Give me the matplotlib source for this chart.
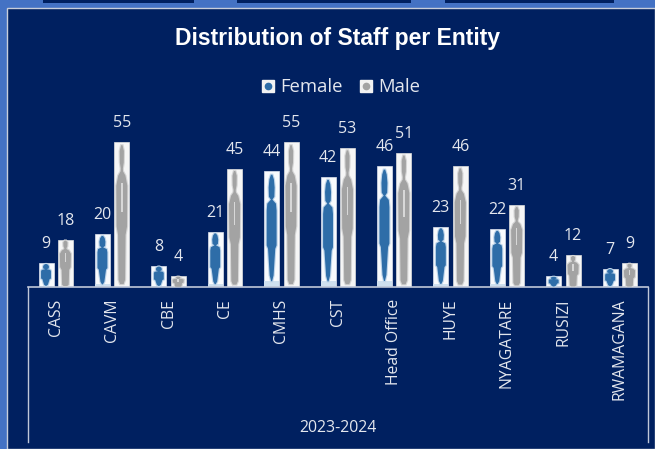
"""
staff_per_entity.py
"""
import numpy as np
import matplotlib
matplotlib.use('Agg')
import matplotlib.pyplot as plt
from matplotlib.lines import Line2D
from matplotlib.patches import Rectangle
from matplotlib.legend_handler import HandlerTuple
# ------------------------Data--------------------------------------------------
entities = ['CASS', 'CAVM', 'CBE', 'CE', 'CMHS', 'CST', 'Head Office',
            'HUYE', 'NYAGATARE', 'RUSIZI', 'RWAMAGANA']
female = [9, 20, 8, 21, 44, 42, 46, 23, 22, 4, 7]
male = [18, 55, 4, 45, 55, 53, 51, 46, 31, 12, 9]
group_label = '2023-2024'
title = 'Distribution of Staff per Entity'
# ------------------------Silhouettes (half width / height, bar relative)-------
f_h = [0.05, 0.10, 0.33, 0.36, 0.66, 0.72, 0.745, 0.755, 0.78, 0.86, 0.93, 0.97]
f_w = [0.03, 0.13, 0.24, 0.33, 0.33, 0.29, 0.12, 0.05, 0.18, 0.20, 0.15, 0.05]
m_h = [0.02, 0.05, 0.36, 0.42, 0.70, 0.77, 0.80, 0.82, 0.86, 0.94, 0.98]
m_w = [0.12, 0.22, 0.25, 0.35, 0.37, 0.24, 0.08, 0.07, 0.13, 0.14, 0.05]
# ------------------------------------------------------------------------------
W, H = 655, 449
BLUE = '#2E6DA8'
GRAY = '#A3A3A3'
NAVY = '#002060'
LINE = '#BFC7D9'
TXT = '#E4E7EE'
plt.rcParams['font.family'] = ['Open Sans', 'DejaVu Sans']

fig = plt.figure(figsize=(W/100, H/100), dpi=100, facecolor='#4472C4')
# full figure pixel layer for the panel and the frame
bg = fig.add_axes([0, 0, 1, 1], zorder=0)
bg.set_xlim(0, W)
bg.set_ylim(H, 0)
bg.axis('off')
for x0, x1 in [(43, 194), (237, 411), (445, 614)]:
    bg.add_patch(Rectangle((x0, 0), x1-x0, 2.5, fc=NAVY, ec='none'))
bg.add_patch(Rectangle((7, 8), W-7, H-8, fc=NAVY, ec='#C9CEDA', lw=1.0))
bg.plot([27.5, 27.5], [287, 442], color=LINE, lw=1.0)
bg.plot([648, 648], [287, 442], color=LINE, lw=1.0)

# the chart axes: baseline at y=287, 2.63 px per staff member
top_px = 287 - 2.63*60
ax = fig.add_axes([27.5/W, 1-287/H, (648-27.5)/W, (287-top_px)/H], zorder=1)
ax.patch.set_alpha(0)
ax.set_xlim(0, len(entities))
ax.set_ylim(0, 60)
for s in ['top', 'left', 'right']:
    ax.spines[s].set_visible(False)
ax.spines['bottom'].set_color(LINE)
ax.spines['bottom'].set_linewidth(1.2)
ax.set_yticks([])
ax.tick_params(axis='x', length=0, pad=8.5)
ax.set_xticks(np.arange(len(entities))+0.5)
ax.set_xticklabels(entities, rotation=90, fontsize=11.3, color=TXT)

bw = 15/56.4
off = 9.7/56.4


def person(xc, v, h, w, color, halo):
    h = np.array(h)
    w = np.array(w)
    xs = np.concatenate([xc-w*bw, (xc+w*bw)[::-1]])
    ys = np.concatenate([h, h[::-1]])*v
    ax.fill(xs, ys, fc=color, ec=halo, lw=1.6, zorder=3)
    ax.fill(xs, ys, fc=color, lw=0, zorder=4)


for i in range(len(entities)):
    xf = i+0.5-off
    xm = i+0.5+off
    ax.bar(xf, female[i], width=bw, color='#F8FAFD', ec='#DDE3EE', lw=0.5, zorder=2)
    ax.bar(xf, female[i]*0.05, width=bw, color='#CFE0EF', lw=0, zorder=2.5)
    ax.bar(xm, male[i], width=bw, color='#F6F6F6', ec='#E0E0E0', lw=0.5, zorder=2)
    person(xf, female[i], f_h, f_w, BLUE, '#BFD5EA')
    person(xm, male[i], m_h, m_w, GRAY, '#D6D6D6')
    # pale stripe on the body of the male figure
    ax.bar(xm, male[i]*0.20, bottom=male[i]*0.52, width=bw*0.10, color='#D8D8D8', lw=0, zorder=5)
    ax.annotate(str(female[i]), (xf, female[i]), xytext=(0, 19), textcoords='offset pixels',
                ha='center', va='center', fontsize=11.5, color=TXT)
    ax.annotate(str(male[i]), (xm, male[i]), xytext=(0, 19), textcoords='offset pixels',
                ha='center', va='center', fontsize=11.5, color=TXT)

bg.text(338, 428, group_label, ha='center', va='center', fontsize=11.4, color=TXT)
bg.text(338, 38, title, ha='center', va='center', fontsize=16.5, fontweight='bold',
        color='white', family=['Liberation Sans Narrow', 'Liberation Sans'])

h_f = (Line2D([], [], marker='s', ms=8.6, color='#F2F2F2', ls=''), Line2D([], [], marker='o', ms=4.5, color=BLUE, ls=''))
h_m = (Line2D([], [], marker='s', ms=8.6, color='#F2F2F2', ls=''), Line2D([], [], marker='o', ms=4.5, color=GRAY, ls=''))
bg.legend([h_f, h_m], ['Female', 'Male'], handler_map={tuple: HandlerTuple(ndivide=1)},
          loc='center', bbox_to_anchor=(341/W, 1-87/H), bbox_transform=fig.transFigure,
          ncol=2, frameon=False, fontsize=13.3, labelcolor=TXT, handlelength=0.7,
          handletextpad=0.3, columnspacing=0.95)

fig.savefig('out.png', dpi=100, facecolor=fig.get_facecolor())
